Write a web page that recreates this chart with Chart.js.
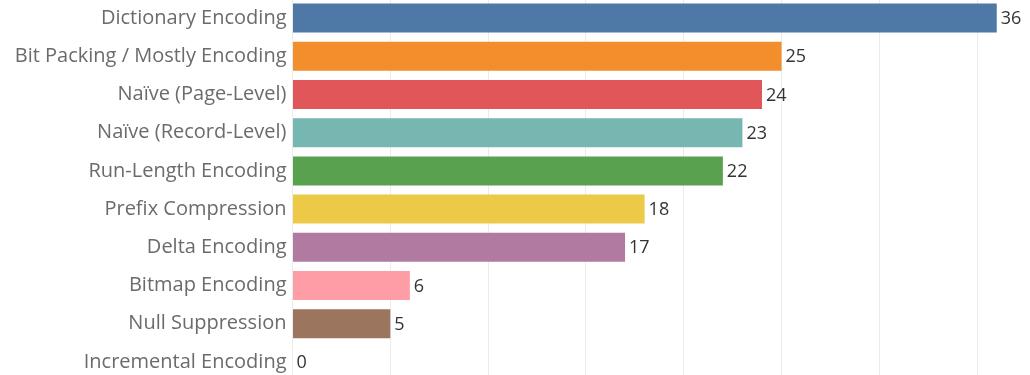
<!DOCTYPE html>
<html lang="en">
<head>
  <meta charset="UTF-8" />
  <title>Encoding schemes</title>
  <script src="https://cdn.jsdelivr.net/npm/chart.js"></script>
  <style>
    html, body { margin: 0; padding: 0; background: #fff; overflow: hidden; }
    .wrap { position: relative; width: 1030px; height: 375px; overflow: hidden; }
    canvas { position: absolute; left: 0; top: -1px; }
  </style>
</head>
<body>
  <div class="wrap">
    <canvas id="barChart" width="1030" height="382"></canvas>
  </div>

  <script>
    const categories = [
      'Dictionary Encoding',
      'Bit Packing / Mostly Encoding',
      'Naïve (Page-Level)',
      'Naïve (Record-Level)',
      'Run-Length Encoding',
      'Prefix Compression',
      'Delta Encoding',
      'Bitmap Encoding',
      'Null Suppression',
      'Incremental Encoding'
    ];
    const counts = [36, 25, 24, 23, 22, 18, 17, 6, 5, 0];
    const barColors = [
      '#4e79a7', '#f28e2b', '#e15759', '#76b7b2', '#59a14f',
      '#edc948', '#b07aa1', '#ff9da7', '#9c755f', '#bab0ac'
    ];

    const FONT = '"Open Sans", "Noto Sans", sans-serif';

    // numbers at the end of each bar
    const valueLabels = {
      id: 'valueLabels',
      afterDatasetsDraw(chart) {
        const ctx = chart.ctx;
        const meta = chart.getDatasetMeta(0);
        ctx.save();
        ctx.font = '18px ' + FONT;
        ctx.fillStyle = '#333';
        ctx.textBaseline = 'middle';
        ctx.textAlign = 'left';
        meta.data.forEach((bar, i) => {
          ctx.fillText(String(counts[i]), bar.x + 4, bar.y + 1);
        });
        ctx.restore();
      }
    };

    new Chart(document.getElementById('barChart'), {
      type: 'bar',
      data: {
        labels: categories,
        datasets: [{
          data: counts,
          backgroundColor: barColors,
          categoryPercentage: 1,
          barPercentage: 0.76
        }]
      },
      options: {
        indexAxis: 'y',
        responsive: false,
        animation: false,
        layout: { padding: 0 },
        plugins: { legend: { display: false }, tooltip: { enabled: false } },
        scales: {
          x: {
            min: 0,
            max: 37.7,
            ticks: { display: false, stepSize: 5 },
            grid: { color: '#ebebeb', drawTicks: false, lineWidth: 1 },
            border: { display: false },
            afterFit(scale) { scale.height = 0; scale.paddingLeft = 0; scale.paddingRight = 0; }
          },
          y: {
            afterFit(scale) {
              scale.width = 292.5;
              scale.paddingTop = 0;
              scale.paddingBottom = 0;
            },
            ticks: {
              color: '#6b6b6b',
              font: { family: FONT, size: 20 },
              padding: 6
            },
            grid: { display: false, drawTicks: false },
            border: { display: true, color: '#ebebeb' }
          }
        }
      },
      plugins: [valueLabels]
    });
  </script>
</body>
</html>
